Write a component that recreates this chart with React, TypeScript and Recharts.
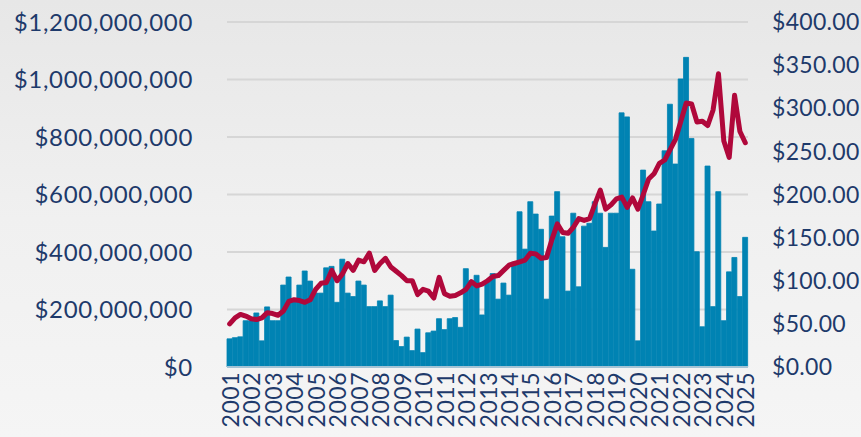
import React from "react";
import { ComposedChart, Bar, Line, XAxis, YAxis, CartesianGrid } from "recharts";

const years = [
  2001, 2002, 2003, 2004, 2005, 2006, 2007, 2008, 2009, 2010, 2011, 2012, 2013,
  2014, 2015, 2016, 2017, 2018, 2019, 2020, 2021, 2022, 2023, 2024, 2025,
];
const quarterNames = ["Q1", "Q2", "Q3", "Q4"];

// quarterly dollar volume, millions (left axis)
const volume = [
  98, 102, 105, 161, 161, 188, 91, 209, 161, 161,
  285, 313, 235, 285, 334, 299, 257, 257, 345, 350,
  225, 375, 257, 245, 299, 285, 210, 210, 230, 210,
  250, 92, 71, 104, 57, 132, 50, 119, 125, 168,
  130, 168, 172, 138, 342, 300, 319, 181, 300, 325,
  236, 292, 250, 365, 540, 410, 575, 532, 479, 236,
  525, 610, 453, 264, 535, 279, 490, 500, 575, 535,
  416, 535, 535, 884, 870, 340, 91, 685, 575, 473,
  567, 752, 914, 706, 1002, 1077, 795, 401, 140, 699,
  210, 610, 161, 331, 381, 245, 451,
];

// average price, dollars (right axis)
const price = [
  50, 57, 61, 59, 56, 55, 57, 63, 62, 60,
  65, 76, 78, 77, 75, 78, 90, 97, 98, 112,
  100, 108, 120, 112, 124, 122, 132, 112, 120, 126,
  116, 111, 106, 100, 100, 84, 90, 88, 80, 104,
  85, 82, 83, 86, 90, 99, 94, 96, 100, 105,
  106, 112, 118, 120, 122, 124, 132, 131, 126, 127,
  148, 166, 156, 155, 162, 172, 170, 172, 189, 205,
  183, 188, 195, 197, 185, 196, 183, 200, 218, 224,
  236, 240, 252, 264, 285, 306, 305, 284, 285, 280,
  298, 340, 262, 243, 315, 273, 260,
];

const leftTicks = [0, 200, 400, 600, 800, 1000, 1200];
const rightTicks = [0, 50, 100, 150, 200, 250, 300, 350, 400];

const categories = years.flatMap((y) => quarterNames.map((q) => `${y} ${q}`)).slice(0, volume.length);
const data = categories.map((c, i) => ({ period: c, volume: volume[i], price: price[i] }));

const textColor = "#1e3a6b";
const font = "Lato, 'DejaVu Sans', sans-serif";

function yearTick(props: any) {
  const { x, y, payload } = props;
  const label = String(payload.value).split(" ")[0];
  return (
    <g transform={`translate(${x},${y})`}>
      <text
        transform="rotate(-90)"
        x={0}
        y={0}
        textAnchor="end"
        dominantBaseline="central"
        fill={textColor}
        fontSize={23}
        letterSpacing={0.5}
        fontFamily={font}
      >
        {label}
      </text>
    </g>
  );
}

export default function App() {
  return (
    <div
      style={{
        position: "absolute",
        left: 0,
        top: 0,
        width: 861,
        height: 437,
        background: "linear-gradient(to bottom, #e7e7e7 0%, #f0f0f0 50%, #f5f5f5 100%)",
      }}
    >
      <style>{"body{margin:0}"}</style>
      <ComposedChart
        width={861}
        height={437}
        data={data}
        margin={{ top: 22, right: 0, bottom: 0, left: 0 }}
        barCategoryGap={0}
        barGap={0}
      >
        <CartesianGrid yAxisId="left" vertical={false} stroke="#d6d6d6" strokeWidth={2} />
        <XAxis
          dataKey="period"
          interval={3}
          height={70}
          tickSize={0}
          tickMargin={5}
          tick={yearTick}
          axisLine={{ stroke: "#a3c3d5", strokeWidth: 2 }}
          tickLine={false}
        />
        <YAxis
          yAxisId="left"
          orientation="left"
          width={227}
          domain={[0, 1200]}
          ticks={leftTicks}
          interval={0}
          axisLine={false}
          tickLine={false}
          tickSize={0}
          tickMargin={34}
          tick={{ fill: textColor, fontSize: 24, letterSpacing: 0.7, fontFamily: font }}
          tickFormatter={(v: number) => `$${(v * 1000000).toLocaleString("en-US")}`}
        />
        <YAxis
          yAxisId="right"
          orientation="right"
          width={113}
          domain={[0, 400]}
          ticks={rightTicks}
          interval={0}
          axisLine={false}
          tickLine={false}
          tickSize={0}
          tickMargin={24}
          tick={{ fill: textColor, fontSize: 23, letterSpacing: 0.3, fontFamily: font }}
          tickFormatter={(v: number) => `$${v.toFixed(2)}`}
        />
        <Bar
          yAxisId="left"
          dataKey="volume"
          fill="#0083b3"
          stroke="#0083b3"
          strokeWidth={0.8}
          isAnimationActive={false}
        />
        <Line
          yAxisId="right"
          dataKey="price"
          type="linear"
          stroke="#b0083b"
          strokeWidth={5}
          strokeLinejoin="round"
          strokeLinecap="round"
          dot={false}
          activeDot={false}
          isAnimationActive={false}
        />
      </ComposedChart>
    </div>
  );
}
